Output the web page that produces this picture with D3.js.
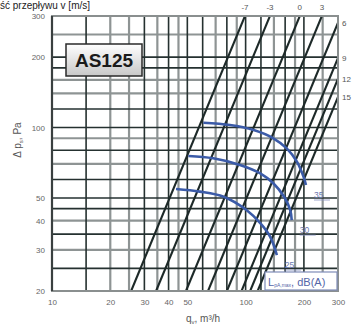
<!DOCTYPE html>
<html><head><meta charset="utf-8">
<script src="https://cdn.jsdelivr.net/npm/d3@7"></script>
<style>body{margin:0;background:#fff}svg{display:block;font-family:"Liberation Sans",Arial,sans-serif}</style>
</head><body><svg id="c" width="352" height="327"></svg>
<script>
const xTicks=[10,20,30,40,50,100,200,300];
const yTicks=[20,30,40,50,100,200,300];
const gridXDark=[10,15,30,40,50,60,80,100,120,160,200,300];
const gridXLight=[20,25,35,45,70,90,140,180,250];
const gridYDark=[20,25,35,45,50,60,80,100,120,180,200,300];
const gridYLight=[30,40,70,90,140,160,250];
// system lines: flow at 100 Pa, with labels
const sysQ100=[57.3,77.1,110,143,179,213,236,258];
const sysLabels=["-7","-3","0","3","6","9","12","15"];
const curveLabels=["35","30","25"];
const curve35=[[60.5,104.9],[83,102.6],[110,97.6],[139,90],[163,81.5],[184,71.5],[199,61.7],[205,56.8]];
const curve30=[[50.6,75.6],[68,73.9],[93.5,69.2],[119,63.7],[139,57.8],[158,50.6],[170,44.4],[173,40.2]];
const curve25=[[43.7,54.6],[58,53.2],[77,50.6],[101,44.4],[119,39],[134,34.1],[145,28.5]];
const curves=[curve35,curve30,curve25];

const svg=d3.select("#c");
const x=d3.scaleLog().domain([10,300]).range([52,338]);
const y=d3.scaleLog().domain([20,300]).range([291,16]);
const L=52,R=338,T=16,B=291;

svg.append("text").attr("x",0).attr("y",9).attr("font-size",10).attr("fill","#222").text("ść przepływu v [m/s]");

const g=svg.append("g");
g.selectAll(".gxl").data(gridXLight).join("line").attr("x1",d=>x(d)).attr("x2",d=>x(d)).attr("y1",T).attr("y2",B).attr("stroke","#8e9494").attr("stroke-width",2.2);
g.selectAll(".gyl").data(gridYLight).join("line").attr("y1",d=>y(d)).attr("y2",d=>y(d)).attr("x1",L).attr("x2",R).attr("stroke","#8e9494").attr("stroke-width",2.2);
g.selectAll(".gxd").data(gridXDark).join("line").attr("x1",d=>x(d)).attr("x2",d=>x(d)).attr("y1",T).attr("y2",B).attr("stroke","#253130").attr("stroke-width",1.6);
g.selectAll(".gyd").data(gridYDark).join("line").attr("y1",d=>y(d)).attr("y2",d=>y(d)).attr("x1",L).attr("x2",R).attr("stroke","#253130").attr("stroke-width",1.6);

// system lines clipped
svg.append("clipPath").attr("id","pc").append("rect").attr("x",L).attr("y",T).attr("width",R-L).attr("height",B-T);
const sl=svg.append("g").attr("clip-path","url(#pc)");
sl.selectAll("line").data(sysQ100).join("line")
 .attr("x1",d=>x(d*Math.sqrt(20/100))).attr("y1",y(20))
 .attr("x2",d=>x(d*Math.sqrt(3)*1.6)).attr("y2",y(300*1.6*1.6))
 .attr("stroke","#1d2928").attr("stroke-width",2.1);

// frame
svg.append("rect").attr("x",L).attr("y",T).attr("width",R-L).attr("height",B-T).attr("fill","none").attr("stroke","#8a8f8f").attr("stroke-width",2);
svg.append("line").attr("x1",L).attr("x2",L).attr("y1",T).attr("y2",B).attr("stroke","#3a4040").attr("stroke-width",2.2);

// system line labels
sysQ100.forEach((q,i)=>{
  const qt=q*Math.sqrt(3);
  if(qt<=300){
    svg.append("text").attr("x",x(qt)).attr("y",10).attr("text-anchor","middle").attr("font-size",8).attr("fill","#555").text(sysLabels[i]);
  } else {
    const p=100*Math.pow(300/q,2);
    svg.append("text").attr("x",342).attr("y",y(p)+3).attr("font-size",8).attr("fill","#555").text(sysLabels[i]);
  }
});

// fan curves
const line=d3.line().x(d=>x(d[0])).y(d=>y(d[1])).curve(d3.curveCatmullRom);
svg.selectAll(".fc").data(curves).join("path").attr("d",line).attr("fill","none").attr("stroke","#3b5ba8").attr("stroke-width",2.6);
curves.forEach((c,i)=>{
  const e=c[c.length-1];
  const ex=x(e[0]),ey=y(e[1]);
  svg.append("text").attr("x",ex+8).attr("y",ey+13).attr("font-size",8.5).attr("fill","#6a78b0").text(curveLabels[i]);
  svg.append("line").attr("x1",ex+8).attr("x2",ex+24).attr("y1",ey+15).attr("y2",ey+15).attr("stroke","#8893c0").attr("stroke-width",0.8);
});

// legend box
svg.append("rect").attr("x",265).attr("y",272).attr("width",72).attr("height",18).attr("fill","#fff").attr("stroke","#7f8cb8").attr("stroke-width",1.2);
const lt=svg.append("text").attr("x",268).attr("y",286).attr("fill","#5566a8").attr("font-size",11);
lt.append("tspan").text("L");
lt.append("tspan").attr("font-size",5).attr("dy",1).text("pA,max");
lt.append("tspan").attr("font-size",11).attr("dy",-1).text(", dB(A)");

// AS125 box
const defs=svg.append("defs");
const gr=defs.append("linearGradient").attr("id","gb").attr("x1",0).attr("y1",0).attr("x2",0).attr("y2",1);
gr.append("stop").attr("offset","0%").attr("stop-color","#ffffff");
gr.append("stop").attr("offset","100%").attr("stop-color","#c8c8c8");
svg.append("rect").attr("x",66).attr("y",44).attr("width",76).attr("height",32).attr("fill","url(#gb)").attr("stroke","#2a2a2a").attr("stroke-width",1.5);
svg.append("text").attr("x",104).attr("y",67).attr("text-anchor","middle").attr("font-size",19).attr("font-weight","bold").attr("fill","#1a1a1a").text("AS125");

// axes tick labels
const ya=svg.append("g").attr("transform",`translate(${L-4},0)`).call(d3.axisLeft(y).tickValues(yTicks).tickFormat(d3.format("d")).tickSize(0));
ya.select(".domain").remove();
ya.selectAll("text").attr("font-size",8).attr("fill","#666").attr("font-family","Liberation Sans, Arial");
const xa=svg.append("g").attr("transform",`translate(0,${B+5})`).call(d3.axisBottom(x).tickValues(xTicks).tickFormat(d3.format("d")).tickSize(0));
xa.select(".domain").remove();
xa.selectAll("text").attr("font-size",8).attr("fill","#666").attr("font-family","Liberation Sans, Arial");

// axis titles
const yt=svg.append("text").attr("transform","translate(21,140) rotate(-90)").attr("text-anchor","middle").attr("font-size",10).attr("fill","#555");
yt.append("tspan").text("Δ p");
yt.append("tspan").attr("font-size",6).attr("dy",2).text("s");
yt.append("tspan").attr("dy",-2).text(", Pa");
const xt=svg.append("text").attr("x",203).attr("y",322).attr("text-anchor","middle").attr("font-size",10).attr("fill","#555");
xt.append("tspan").text("q");
xt.append("tspan").attr("font-size",6).attr("dy",2).text("v");
xt.append("tspan").attr("dy",-2).text(", m³/h");
</script></body></html>
